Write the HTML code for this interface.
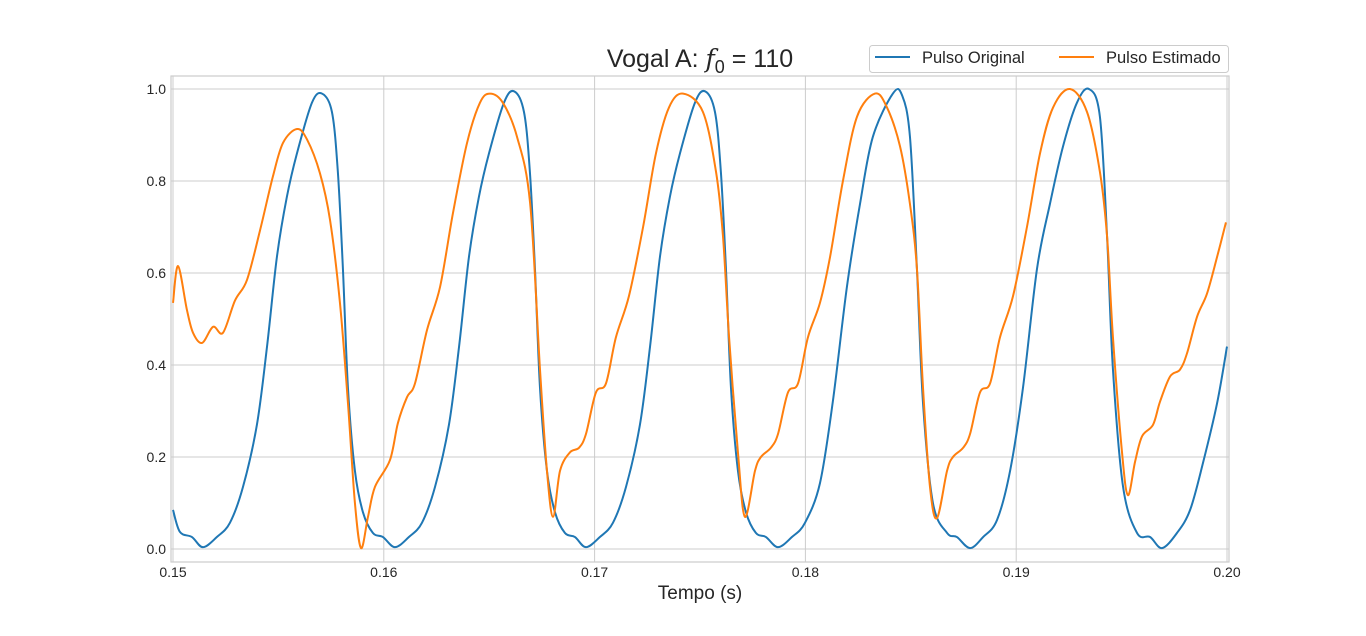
<!DOCTYPE html>
<html><head><meta charset="utf-8"><style>
body{margin:0;background:#fff;width:1366px;height:631px;overflow:hidden;font-family:"Liberation Sans","DejaVu Sans",sans-serif;}
svg text{font-family:"Liberation Sans","DejaVu Sans",sans-serif;fill:#262626;}
</style></head><body>
<svg id="chart" width="1366" height="631" xmlns="http://www.w3.org/2000/svg">
<g id="grid"></g>
<g id="series"></g>
<rect x="171" y="76" width="1058" height="486" fill="none" stroke="#cccccc" stroke-width="1.2"/>
<g id="ticks"></g>
<text x="700" y="67" text-anchor="middle" font-size="25">Vogal A: <tspan font-style="italic" font-family="DejaVu Serif, serif">f</tspan><tspan font-size="18" dy="6">0</tspan><tspan dy="-6"> = 110</tspan></text>
<text x="700" y="599" text-anchor="middle" font-size="19">Tempo (s)</text>
<g>
<rect x="869.5" y="45.5" width="359" height="27" rx="3" fill="#fff" stroke="#cccccc"/>
<line x1="875" y1="57" x2="910" y2="57" stroke="#1f77b4" stroke-width="2"/>
<text x="922" y="63" font-size="16.5">Pulso Original</text>
<line x1="1059" y1="57" x2="1094" y2="57" stroke="#ff7f0e" stroke-width="2"/>
<text x="1106" y="63" font-size="16.5">Pulso Estimado</text>
</g>
</svg>
<script>
// times in ms
const xTickLabels = ["0.15","0.16","0.17","0.18","0.19","0.20"];
const yTickLabels = ["0.0","0.2","0.4","0.6","0.8","1.0"];
const originalT = [150.00,150.33,150.90,151.42,152.08,152.70,153.32,153.98,154.46,154.93,155.40,155.88,156.59,157.07,157.54,157.82,158.06,158.30,158.63,159.01,159.48,159.96,
160.53,161.19,161.81,162.43,163.09,163.57,164.04,164.51,164.99,165.70,166.18,166.65,166.93,167.17,167.41,167.74,168.12,168.59,169.07,
169.59,170.25,170.87,171.49,172.15,172.63,173.10,173.57,174.05,174.76,175.24,175.71,175.99,176.23,176.47,176.80,177.18,177.65,178.13,
178.70,179.36,179.98,180.69,181.30,181.97,182.59,183.20,184.15,184.58,184.96,185.29,185.58,186.05,186.72,187.19,187.81,188.43,189.09,189.71,190.32,190.99,191.60,192.22,192.88,193.45,193.97,194.31,194.59,195.07,195.73,196.35,196.92,197.63,198.25,198.86,199.53,200.00];
const originalV = [0.085,0.037,0.026,0.004,0.026,0.057,0.135,0.27,0.44,0.635,0.765,0.86,0.97,0.99,0.95,0.82,0.61,0.35,0.17,0.08,0.035,0.026,
0.004,0.026,0.057,0.135,0.27,0.44,0.635,0.765,0.86,0.97,0.995,0.95,0.82,0.61,0.35,0.17,0.08,0.035,0.026,
0.004,0.026,0.057,0.135,0.27,0.44,0.635,0.765,0.86,0.97,0.995,0.95,0.82,0.61,0.35,0.17,0.08,0.035,0.026,
0.004,0.026,0.057,0.143,0.32,0.57,0.75,0.896,0.99,0.987,0.896,0.61,0.317,0.1,0.035,0.026,0.002,0.026,0.063,0.17,0.35,0.61,0.75,0.875,0.97,1.0,0.94,0.68,0.39,0.135,0.035,0.026,0.002,0.035,0.085,0.187,0.317,0.44];
const estimadoT = [150.00,150.24,150.66,150.95,151.38,151.90,152.37,152.94,153.51,154.13,154.74,155.22,155.88,156.36,156.97,157.45,157.92,158.30,158.63,158.92,159.25,159.58,160.29,160.67,161.10,161.48,162.05,162.67,163.28,163.95,164.56,165.04,165.65,166.32,166.94,167.41,167.74,168.03,168.36,168.83,
169.26,169.59,170.06,170.54,171.01,171.63,172.30,172.91,173.53,174.20,175.14,175.76,176.09,176.38,176.80,177.13,
177.61,177.89,178.36,178.70,179.17,179.65,180.12,180.69,181.17,181.78,182.45,183.30,183.87,184.49,184.96,185.29,185.58,185.91,186.24,
186.72,187.00,187.48,187.81,188.28,188.76,189.23,189.85,190.51,191.13,191.75,192.55,193.36,193.97,194.31,194.59,195.02,195.30,195.64,195.97,196.49,196.82,197.30,197.77,198.10,198.58,199.05,199.53,199.95];
const estimadoV = [0.535,0.615,0.52,0.47,0.448,0.483,0.47,0.54,0.585,0.693,0.81,0.883,0.913,0.89,0.817,0.715,0.535,0.317,0.1,0.002,0.07,0.135,0.193,0.274,0.33,0.36,0.476,0.57,0.73,0.883,0.97,0.99,0.97,0.896,0.752,0.39,0.17,0.07,0.17,0.21,
0.22,0.25,0.34,0.36,0.46,0.55,0.70,0.86,0.96,0.99,0.95,0.82,0.68,0.46,0.21,0.07,
0.17,0.2,0.22,0.25,0.34,0.36,0.46,0.535,0.635,0.80,0.94,0.99,0.96,0.875,0.75,0.61,0.35,0.135,0.067,
0.17,0.2,0.22,0.25,0.34,0.36,0.46,0.55,0.70,0.86,0.96,1.0,0.95,0.82,0.68,0.46,0.21,0.117,0.19,0.245,0.27,0.32,0.375,0.39,0.425,0.505,0.555,0.635,0.71];

const NS="http://www.w3.org/2000/svg";
function xs(ms){return 173+(ms-150)*21.08;}
function ys(v){return 549-v*460;}
function mk(tag,attrs,parent){const e=document.createElementNS(NS,tag);for(const k in attrs)e.setAttribute(k,attrs[k]);parent.appendChild(e);return e;}
const grid=document.getElementById('grid'),ticks=document.getElementById('ticks'),series=document.getElementById('series');
xTickLabels.forEach(function(l){
  const x=xs(parseFloat(l)*1000);
  const g=mk('line',{x1:x,x2:x,y1:76,y2:562,stroke:'#cccccc','stroke-width':1},grid);
  
  
  const t=mk('text',{x:x,y:577,'text-anchor':'middle','font-size':'14'},ticks);
  t.textContent=l;
  
  
});
yTickLabels.forEach(function(l){
  const y=ys(parseFloat(l));
  const g=mk('line',{x1:171,x2:1229,y1:y,y2:y,stroke:'#cccccc','stroke-width':1},grid);
  
  
  const t=mk('text',{x:166,y:y+5,'text-anchor':'end','font-size':'14'},ticks);
  t.textContent=l;
  
  
});
function smoothPath(T,V){
  const p=T.map(function(t,i){return [xs(t),ys(V[i])];});
  let d='M'+p[0][0].toFixed(2)+','+p[0][1].toFixed(2);
  for(let i=0;i<p.length-1;i++){
    const p0=p[Math.max(i-1,0)],p1=p[i],p2=p[i+1],p3=p[Math.min(i+2,p.length-1)];
    const c1=[p1[0]+(p2[0]-p0[0])/6,p1[1]+(p2[1]-p0[1])/6];
    const c2=[p2[0]-(p3[0]-p1[0])/6,p2[1]-(p3[1]-p1[1])/6];
    d+='C'+c1[0].toFixed(2)+','+c1[1].toFixed(2)+' '+c2[0].toFixed(2)+','+c2[1].toFixed(2)+' '+p2[0].toFixed(2)+','+p2[1].toFixed(2);
  }
  return d;
}
const l1=mk('path',{d:smoothPath(originalT,originalV),fill:'none',stroke:'#1f77b4','stroke-width':2,'stroke-linejoin':'round'},series);


const l2=mk('path',{d:smoothPath(estimadoT,estimadoV),fill:'none',stroke:'#ff7f0e','stroke-width':2,'stroke-linejoin':'round'},series);


</script>
</body></html>
